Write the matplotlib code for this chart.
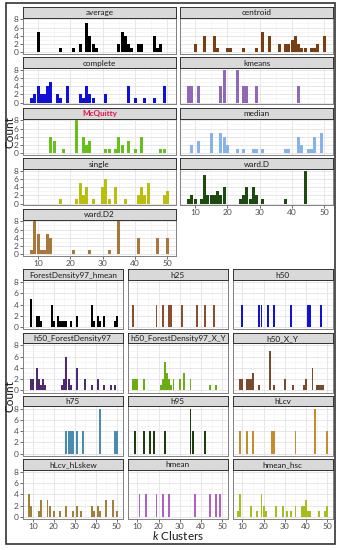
import matplotlib
matplotlib.use('Agg')
import matplotlib.pyplot as plt
from matplotlib.patches import Rectangle

plt.rcParams['font.family'] = ['Lato', 'DejaVu Sans']
plt.rcParams['mathtext.fontset'] = 'custom'
plt.rcParams['mathtext.it'] = 'Lato:italic'
plt.rcParams['mathtext.rm'] = 'Lato'

# ---- top block: hclust linkages + kmeans ----
average_k = [10, 17, 21, 23, 25, 26, 27, 28, 35, 36, 37, 38, 39, 41, 42, 46, 47, 48]
average_n = [5, 1, 1, 2, 7, 4, 2, 1, 2, 5, 4, 2, 1, 2, 2, 4, 1, 2]

centroid_k = [10, 13, 16, 17, 20, 21, 25, 29, 31, 33, 36, 38, 39, 40, 41, 42, 43, 44, 46, 47, 48, 50]
centroid_n = [2, 4, 4, 1, 1, 1, 1, 1, 5, 4, 2, 2, 2, 3, 4, 2, 1, 1, 1, 1, 2, 4]

complete_k = [8, 9, 10, 11, 12, 13, 14, 16, 17, 19, 23, 24, 25, 26, 27, 31, 38, 40, 43, 46, 49]
complete_n = [1, 2, 4, 2, 2, 4, 5, 2, 1, 4, 2, 1, 4, 2, 1, 2, 4, 1, 1, 1, 4]

kmeans_k = [8, 9, 11, 18, 19, 23, 25, 26, 29, 42]
kmeans_n = [4, 4, 4, 4, 8, 8, 4, 4, 4, 4]

mcquitty_k = [14, 15, 18, 22, 24, 25, 26, 31, 32, 34, 35, 36, 38, 40, 42, 48, 49]
mcquitty_n = [4, 3, 1, 8, 4, 2, 3, 1, 1, 1, 4, 2, 3, 1, 4, 1, 1]

median_k = [9, 11, 15, 18, 19, 20, 23, 25, 28, 29, 31, 38, 39, 42, 43, 45, 46, 47, 49]
median_n = [2, 3, 5, 5, 4, 2, 1, 1, 1, 1, 1, 1, 1, 4, 2, 1, 1, 4, 5]

single_k = [17, 22, 23, 24, 25, 27, 30, 31, 32, 34, 37, 41, 42, 43, 44, 49, 50]
single_n = [1, 1, 5, 2, 4, 1, 4, 6, 1, 4, 1, 2, 4, 2, 5, 2, 3]

wardD_k = [8, 9, 10, 12, 13, 14, 15, 16, 17, 18, 19, 24, 25, 26, 27, 28, 29, 31, 38, 44]
wardD_n = [1, 2, 1, 1, 7, 2, 2, 2, 3, 2, 4, 1, 2, 4, 1, 4, 2, 1, 1, 8]

wardD2_k = [8, 9, 10, 11, 12, 13, 14, 21, 26, 32, 35, 41, 47, 50]
wardD2_n = [1, 8, 5, 1, 1, 5, 4, 1, 1, 1, 8, 4, 4, 4]

# ---- bottom block: input variable sets ----
fd97_hmean_k = [9, 12, 13, 14, 19, 20, 22, 23, 24, 25, 26, 28, 31, 38, 39, 41, 42, 44, 49, 50]
fd97_hmean_n = [5, 2, 2, 1, 4, 1, 2, 1, 1, 1, 1, 1, 2, 4, 1, 2, 1, 2, 1, 2]

h25_k = [8, 19, 22, 25, 26, 31, 38, 42, 46]
h25_n = [4, 4, 4, 4, 4, 4, 4, 4, 4]

h50_k = [10, 18, 19, 22, 25, 33, 41, 42, 47]
h50_n = [4, 4, 4, 4, 4, 4, 4, 4, 4]

h50_fd97_k = [9, 10, 12, 13, 14, 15, 16, 24, 25, 26, 27, 28, 31, 35, 38, 41, 44, 47, 49]
h50_fd97_n = [2, 2, 4, 2, 1, 2, 1, 1, 2, 6, 2, 1, 4, 2, 1, 2, 1, 1, 1]

h50_fd97_xy_k = [8, 9, 10, 13, 21, 22, 23, 24, 25, 26, 27, 30, 32, 35, 44, 47]
h50_fd97_xy_n = [2, 2, 2, 2, 1, 2, 5, 3, 2, 1, 2, 2, 3, 2, 1, 1]

h50_xy_k = [9, 10, 12, 13, 14, 15, 18, 23, 25, 30, 34, 39, 40, 43, 45, 46, 47, 48]
h50_xy_n = [2, 2, 2, 2, 2, 3, 1, 7, 1, 2, 1, 1, 2, 4, 1, 1, 1, 1]

h75_k = [26, 27, 28, 29, 31, 34, 42, 49, 50]
h75_n = [4, 4, 4, 4, 4, 4, 8, 4, 4]

h95_k = [9, 13, 16, 18, 23, 35, 36, 42]
h95_n = [4, 4, 4, 4, 4, 8, 4, 4]

hlcv_k = [9, 12, 15, 24, 25, 35, 44, 50]
hlcv_n = [4, 4, 4, 4, 4, 4, 8, 4]

hlcv_hlskew_k = [8, 9, 13, 14, 17, 18, 20, 23, 26, 29, 31, 33, 38, 39, 41, 42, 45, 48, 50]
hlcv_hlskew_n = [4, 2, 1, 3, 3, 2, 1, 1, 2, 1, 2, 1, 2, 1, 2, 1, 3, 3, 1]

hmean_k = [11, 14, 19, 22, 25, 37, 44, 47, 49]
hmean_n = [4, 4, 4, 4, 4, 4, 4, 4, 4]

hmean_hsc_k = [8, 9, 14, 17, 19, 20, 21, 26, 29, 31, 33, 35, 38, 39, 40, 41, 42, 46, 49, 50]
hmean_hsc_n = [1, 4, 2, 1, 4, 2, 1, 2, 2, 1, 1, 2, 2, 2, 3, 1, 1, 1, 1, 2]

top_panels = [
    ("average", average_k, average_n, "#000000"),
    ("centroid", centroid_k, centroid_n, "#7a3e12"),
    ("complete", complete_k, complete_n, "#1010d8"),
    ("kmeans", kmeans_k, kmeans_n, "#9068b8"),
    ("McQuitty", mcquitty_k, mcquitty_n, "#66c21a"),
    ("median", median_k, median_n, "#86b4ea"),
    ("single", single_k, single_n, "#b8c00c"),
    ("ward.D", wardD_k, wardD_n, "#1d4a0e"),
    ("ward.D2", wardD2_k, wardD2_n, "#a8783a"),
]
bottom_panels = [
    ("ForestDensity97_hmean", fd97_hmean_k, fd97_hmean_n, "#000000"),
    ("h25", h25_k, h25_n, "#8a4e2c"),
    ("h50", h50_k, h50_n, "#1010d8"),
    ("h50_ForestDensity97", h50_fd97_k, h50_fd97_n, "#4e2a6e"),
    ("h50_ForestDensity97_X_Y", h50_fd97_xy_k, h50_fd97_xy_n, "#6aac14"),
    ("h50_X_Y", h50_xy_k, h50_xy_n, "#7a4a2c"),
    ("h75", h75_k, h75_n, "#4a8cb0"),
    ("h95", h95_k, h95_n, "#1f3d0c"),
    ("hLcv", hlcv_k, hlcv_n, "#c48c2a"),
    ("hLcv_hLskew", hlcv_hlskew_k, hlcv_hlskew_n, "#a0803a"),
    ("hmean", hmean_k, hmean_n, "#b060c4"),
    ("hmean_hsc", hmean_hsc_k, hmean_hsc_n, "#aabc1c"),
]

W, H = 340, 550
fig = plt.figure(figsize=(W / 100, H / 100), dpi=100)


def box(x0, y0, x1, y1):
    return [x0 / W, 1 - y1 / H, (x1 - x0) / W, (y1 - y0) / H]


def facet(x0, x1, ys, sh, ph, name, ks, ns, color, ylab, xlab):
    ax = fig.add_axes(box(x0, ys + sh, x1, ys + sh + ph))
    ax.bar(ks, ns, width=0.92, color=color, zorder=3)
    ax.set_xlim(5.35, 52.65)
    ax.set_ylim(-0.4, 8.4)
    ax.set_xticks([10, 20, 30, 40, 50])
    ax.set_xticks([15, 25, 35, 45], minor=True)
    ax.set_yticks([0, 2, 4, 6, 8])
    ax.set_yticks([1, 3, 5, 7], minor=True)
    ax.grid(which='major', color='#e3e3e3', lw=0.6)
    ax.grid(which='minor', color='#f0f0f0', lw=0.4)
    ax.set_axisbelow(True)
    for s in ax.spines.values():
        s.set_color('#808080')
        s.set_linewidth(0.7)
    ax.tick_params(which='minor', length=0)
    ax.tick_params(which='major', length=2, width=0.5, color='#333333',
                   labelsize=6, labelcolor='#4d4d4d', pad=1)
    ax.tick_params(left=ylab, labelleft=ylab, bottom=xlab, labelbottom=xlab)

    sax = fig.add_axes(box(x0, ys, x1, ys + sh))
    sax.set_facecolor('#d9d9d9')
    sax.set_xticks([])
    sax.set_yticks([])
    for s in sax.spines.values():
        s.set_color('#333333')
        s.set_linewidth(0.7)
    if name == "McQuitty":
        sax.text(0.5, 0.45, name, ha='center', va='center', fontsize=5.9,
                 color='#e8124f', fontweight='bold')
    else:
        sax.text(0.5, 0.45, name, ha='center', va='center', fontsize=5.9,
                 color='#1a1a1a')


# top block: 2 columns
top_cols = [(23, 176), (180, 333)]
for i, (name, ks, ns, color) in enumerate(top_panels):
    r, c = divmod(i, 2)
    ys = 6.7 + 50.5 * r
    last = (r == 4) or (r == 3 and c == 1)
    facet(top_cols[c][0], top_cols[c][1], ys, 11, 36, name, ks, ns, color,
          c == 0, last)

# bottom block: 3 columns
bot_cols = [(23, 122.5), (127.5, 228), (232.5, 333)]
for i, (name, ks, ns, color) in enumerate(bottom_panels):
    r, c = divmod(i, 3)
    ys = 269.3 + 63.3 * r
    facet(bot_cols[c][0], bot_cols[c][1], ys, 10.5, 49.5, name, ks, ns, color,
          c == 0, r == 3)

fig.text(10 / W, 1 - 132 / H, 'Count', rotation=90, ha='center', va='center',
         fontsize=8.5, color='#1a1a1a')
fig.text(10 / W, 1 - 396 / H, 'Count', rotation=90, ha='center', va='center',
         fontsize=8.5, color='#1a1a1a')
fig.text(178 / W, 1 - 536 / H, r'$\mathit{k}$ Clusters', ha='center', va='center',
         fontsize=8.5, color='#1a1a1a')

fig.add_artist(Rectangle((6 / W, 1 - 544 / H), 329 / W, 540.7 / H,
                         transform=fig.transFigure, fill=False,
                         edgecolor='#333333', lw=1.2))

fig.savefig('out.png', dpi=100)
